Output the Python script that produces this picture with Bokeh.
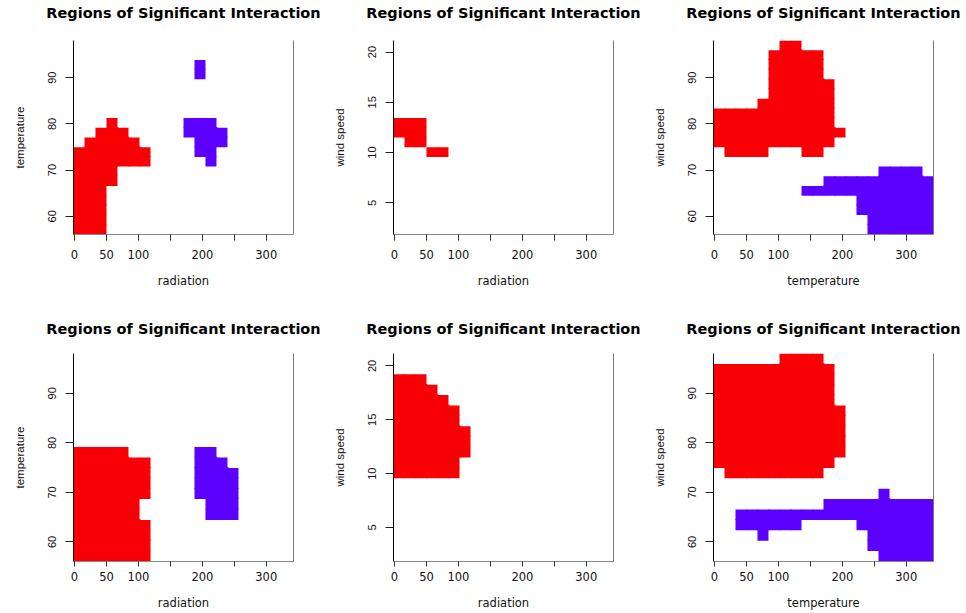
from bokeh.plotting import figure
from bokeh.layouts import gridplot
from bokeh.models import FixedTicker, LinearAxis, Range1d, ColumnDataSource
from bokeh.embed import file_html
from bokeh.resources import INLINE

TITLE = "Regions of Significant Interaction"

# Cell centres of the evaluation grids
radiation_grid = [7.0, 24.2, 41.4, 58.6, 75.8, 93.1, 110.3, 127.5, 144.7, 161.9,
                  179.1, 196.3, 213.5, 230.7, 247.9, 265.2, 282.4, 299.6, 316.8, 334.0]
temperature_grid = [57.1, 59.2, 61.3, 63.4, 65.5, 67.6, 69.7, 71.8, 73.9, 76.0,
                    78.1, 80.2, 82.3, 84.4, 86.5, 88.6, 90.7, 92.8, 94.9, 97.0]
wind_grid = [2.33, 3.30, 4.26, 5.23, 6.19, 7.16, 8.12, 9.09, 10.05, 11.02,
             11.98, 12.95, 13.91, 14.88, 15.84, 16.81, 17.77, 18.74, 19.70, 20.67]

x_ticks = [0, 50, 100, 150, 200, 250, 300]
x_hidden_labels = {150: "", 250: ""}
temperature_ticks = [60, 70, 80, 90]
wind_ticks = [5, 10, 15, 20]

# Significance maps, top grid row first: R = positive, B = negative interaction
map_rad_temp_a = [
    "....................",
    "....................",
    "...........B........",
    "...........B........",
    "....................",
    "....................",
    "....................",
    "....................",
    "...R......BBB.......",
    "..RRR.....BBBB......",
    ".RRRRR.....BBB......",
    "RRRRRRR....BB.......",
    "RRRRRRR.....B.......",
    "RRRR................",
    "RRRR................",
    "RRR.................",
    "RRR.................",
    "RRR.................",
    "RRR.................",
    "RRR.................",
]
map_rad_wind_a = [
    "....................",
    "....................",
    "....................",
    "....................",
    "....................",
    "....................",
    "....................",
    "....................",
    "RRR.................",
    "RRR.................",
    ".RR.................",
    "...RR...............",
    "....................",
    "....................",
    "....................",
    "....................",
    "....................",
    "....................",
    "....................",
    "....................",
]
map_temp_wind_a = [
    "......RR............",
    ".....RRRRR..........",
    ".....RRRRR..........",
    ".....RRRRR..........",
    ".....RRRRRR.........",
    ".....RRRRRR.........",
    "....RRRRRRR.........",
    "RRRRRRRRRRR.........",
    "RRRRRRRRRRR.........",
    "RRRRRRRRRRRR........",
    "RRRRRRRRRRR.........",
    ".RRRR...RR..........",
    "....................",
    "...............BBBB.",
    "..........BBBBBBBBBB",
    "........BBBBBBBBBBBB",
    ".............BBBBBBB",
    ".............BBBBBBB",
    "..............BBBBBB",
    "..............BBBBBB",
]
map_rad_temp_b = [
    "....................",
    "....................",
    "....................",
    "....................",
    "....................",
    "....................",
    "....................",
    "....................",
    "....................",
    "RRRRR......BB.......",
    "RRRRRRR....BBB......",
    "RRRRRRR....BBBB.....",
    "RRRRRRR....BBBB.....",
    "RRRRRRR....BBBB.....",
    "RRRRRR......BBB.....",
    "RRRRRR......BBB.....",
    "RRRRRRR.............",
    "RRRRRRR.............",
    "RRRRRRR.............",
    "RRRRRRR.............",
]
map_rad_wind_b = [
    "....................",
    "....................",
    "RRR.................",
    "RRRR................",
    "RRRRR...............",
    "RRRRRR..............",
    "RRRRRR..............",
    "RRRRRRR.............",
    "RRRRRRR.............",
    "RRRRRRR.............",
    "RRRRRR..............",
    "RRRRRR..............",
    "....................",
    "....................",
    "....................",
    "....................",
    "....................",
    "....................",
    "....................",
    "....................",
]
map_temp_wind_b = [
    "......RRRR..........",
    "RRRRRRRRRRR.........",
    "RRRRRRRRRRR.........",
    "RRRRRRRRRRR.........",
    "RRRRRRRRRRR.........",
    "RRRRRRRRRRRR........",
    "RRRRRRRRRRRR........",
    "RRRRRRRRRRRR........",
    "RRRRRRRRRRRR........",
    "RRRRRRRRRRRR........",
    "RRRRRRRRRRR.........",
    ".RRRRRRRRR..........",
    "....................",
    "...............B....",
    "..........BBBBBBBBBB",
    "..BBBBBBBBBBBBBBBBBB",
    "..BBBBBB.....BBBBBBB",
    "....B.........BBBBBB",
    "..............BBBBBB",
    "...............BBBBB",
]

COLORS = {"R": "#F90006", "B": "#5C00FF"}

panels = [
    (map_rad_temp_a, "radiation", "temperature", temperature_grid, temperature_ticks),
    (map_rad_wind_a, "radiation", "wind speed", wind_grid, wind_ticks),
    (map_temp_wind_a, "temperature", "wind speed", temperature_grid, temperature_ticks),
    (map_rad_temp_b, "radiation", "temperature", temperature_grid, temperature_ticks),
    (map_rad_wind_b, "radiation", "wind speed", wind_grid, wind_ticks),
    (map_temp_wind_b, "temperature", "wind speed", temperature_grid, temperature_ticks),
]

# Per-row layout: figure height, borders, tick and label spacing, heading gap
ROW_STYLE = [
    dict(height=310, top=40, bottom=76, xtick=6, xstand=9, xlabstand=12, head=20),
    dict(height=303, top=43, bottom=52, xtick=5, xstand=5, xlabstand=12, head=17),
]
FRAME_W = 220


def edges(grid):
    step = (grid[-1] - grid[0]) / (len(grid) - 1)
    return [g - step / 2 for g in grid], [g + step / 2 for g in grid], step


def cells(rows, ygrid):
    """One quad per marked cell; cells overlap a same-class neighbour slightly
    above and to the right so no hairline seams show between them."""
    xl, xr, xs = edges(radiation_grid)
    yb, yt, ys = edges(ygrid)
    n = len(rows)
    data = dict(left=[], right=[], top=[], bottom=[], color=[])
    for r, line in enumerate(rows):
        j = n - 1 - r
        for c, ch in enumerate(line):
            if ch == ".":
                continue
            up = r > 0 and rows[r - 1][c] == ch
            rt = c + 1 < len(line) and line[c + 1] == ch
            data["left"].append(xl[c])
            data["right"].append(xr[c] + (0.08 * xs if rt else 0))
            data["bottom"].append(yb[j])
            data["top"].append(yt[j] + (0.08 * ys if up else 0))
            data["color"].append(COLORS[ch])
    return data


def blank_axis(**kw):
    return LinearAxis(ticker=FixedTicker(ticks=[]), major_tick_line_color=None,
                      minor_tick_line_color=None, major_label_text_font_size="0px",
                      major_tick_out=0, major_tick_in=0, major_label_standoff=0, **kw)


def make_panel(idx):
    rows, xlab, ylab, ygrid, yticks = panels[idx]
    r_i, c_i = divmod(idx, 3)
    st = ROW_STYLE[r_i]
    width = 326 if c_i == 2 else 320
    xl, xr, _ = edges(radiation_grid)
    yb, yt, _ = edges(ygrid)
    p = figure(width=width, height=st["height"], output_backend="svg",
               toolbar_location=None,
               x_range=Range1d(xl[0], xr[-1]), y_range=Range1d(yb[0], yt[-1]),
               min_border_left=73, min_border_right=width - 73 - FRAME_W,
               min_border_top=st["top"], min_border_bottom=st["bottom"])
    p.background_fill_color = "white"
    p.border_fill_color = "white"
    p.outline_line_color = None
    p.xgrid.visible = False
    p.ygrid.visible = False

    src = ColumnDataSource(cells(rows, ygrid))
    p.quad(left="left", right="right", top="top", bottom="bottom", source=src,
           fill_color="color", line_color=None)

    xa = p.below[0]
    xa.ticker = FixedTicker(ticks=x_ticks)
    xa.major_label_overrides = x_hidden_labels
    xa.major_tick_out = st["xtick"]
    xa.major_tick_in = 0
    xa.minor_tick_line_color = None
    xa.axis_line_color = "#8a8a8a"
    xa.major_tick_line_color = "#333333"
    xa.major_label_text_font = "DejaVu Sans"
    xa.major_label_text_font_size = "11.5px"
    xa.major_label_text_color = "#111111"
    xa.major_label_standoff = st["xstand"]
    xa.axis_label = xlab
    xa.axis_label_text_font = "DejaVu Sans"
    xa.axis_label_text_font_size = "11.5px"
    xa.axis_label_text_font_style = "normal"
    xa.axis_label_text_color = "#111111"
    xa.axis_label_standoff = st["xlabstand"]

    ya = p.left[0]
    ya.ticker = FixedTicker(ticks=yticks)
    ya.major_label_orientation = "vertical"
    ya.major_tick_out = 8
    ya.major_tick_in = 0
    ya.minor_tick_line_color = None
    ya.axis_line_color = "black"
    ya.major_tick_line_color = "#222222"
    ya.major_label_text_font = "Liberation Sans"
    ya.major_label_text_font_size = "11px"
    ya.major_label_text_color = "#111111"
    ya.major_label_standoff = 9
    ya.axis_label = ylab
    ya.axis_label_text_font = "Liberation Sans"
    ya.axis_label_text_font_size = "11.5px"
    ya.axis_label_text_font_style = "normal"
    ya.axis_label_text_color = "#111111"
    ya.axis_label_standoff = 20

    # panel heading, carried by a bare axis along the top of the frame
    head = blank_axis(axis_line_color=None, axis_label=TITLE,
                      axis_label_text_font="DejaVu Sans",
                      axis_label_text_font_size="14.5px",
                      axis_label_text_font_style="bold",
                      axis_label_text_color="black",
                      axis_label_standoff=st["head"])
    p.add_layout(head, "above")
    p.add_layout(blank_axis(axis_line_color="#777777"), "right")
    return p


figs = [make_panel(i) for i in range(6)]
grid = gridplot([figs[:3], figs[3:]], toolbar_location=None)

open("out.html", "w").write(file_html(grid, INLINE))
